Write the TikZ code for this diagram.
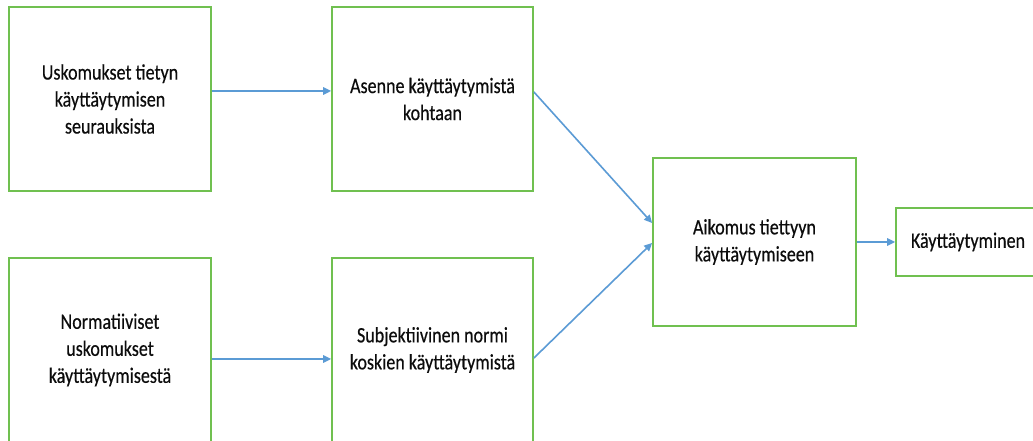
\documentclass[tikz,border=0pt]{standalone}
\usepackage{fontspec}
\setmainfont{Carlito}[FakeStretch=0.82,FakeBold=0.4]
\usetikzlibrary{arrows.meta}
\definecolor{boxgreen}{RGB}{112,192,80}
\definecolor{arrowblue}{RGB}{91,155,213}
\definecolor{inktext}{RGB}{12,12,12}
\begin{document}
\begin{tikzpicture}[x=1pt,y=1pt,
  stagebox/.style={draw=boxgreen, line width=1.8pt, fill=white, rectangle,
    inner sep=0pt, align=center, text=inktext,
    font=\fontsize{22}{27}\selectfont},
  link/.style={draw=arrowblue, line width=1.6pt,
    -{Triangle[length=8pt,width=7.5pt]}}]
  \useasboundingbox (0,0) rectangle (1033,441);
  \clip (0,0) rectangle (1033,441);
  \fill[white] (0,0) rectangle (1033,441);

  % belief boxes (left column)
  \node[stagebox, minimum width=202pt, minimum height=184pt] (beliefs)
    at (110,342) {Uskomukset tietyn\\käyttäytymisen\\seurauksista};
  \node[stagebox, minimum width=202pt, minimum height=184pt] (normbeliefs)
    at (110,91) {Normatiiviset\\uskomukset\\käyttäytymisestä};

  % attitude and subjective norm (middle column)
  \node[stagebox, minimum width=201pt, minimum height=184pt] (attitude)
    at (432.5,342) {Asenne käyttäytymistä\\kohtaan};
  \node[stagebox, minimum width=201pt, minimum height=184pt] (subjnorm)
    at (432.5,91) {Subjektiivinen normi\\koskien käyttäytymistä};

  % intention and behaviour
  \node[stagebox, minimum width=203pt, minimum height=168pt] (intention)
    at (754.5,199) {Aikomus tiettyyn\\käyttäytymiseen};
  \node[stagebox, minimum width=144pt, minimum height=68pt] (behaviour)
    at (968,199) {Käyttäytyminen};

  % connectors
  \draw[link] ([yshift=8pt]beliefs.east) -- ([yshift=8pt]attitude.west);
  \draw[link] ([yshift=-9pt]normbeliefs.east) -- ([yshift=-9pt]subjnorm.west);
  \draw[link] ([yshift=7pt]attitude.east) -- ([yshift=19pt]intention.west);
  \draw[link] ([yshift=-8pt]subjnorm.east) -- ([yshift=-1pt]intention.west);
  \draw[link] (intention.east) -- (behaviour.west);
\end{tikzpicture}
\end{document}
